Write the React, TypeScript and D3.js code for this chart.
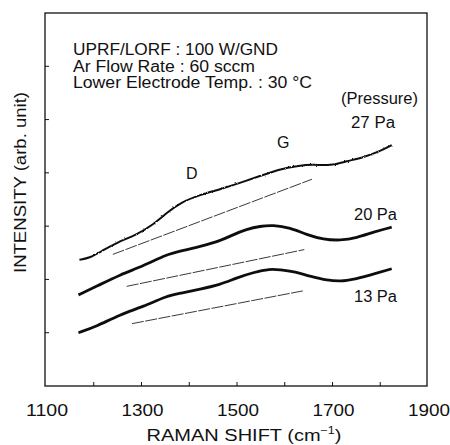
import React from "react";
import * as d3 from "d3";

const xTicks = [1100, 1300, 1500, 1700, 1900];
const xMinorTicks = [1200, 1300, 1400, 1500, 1600, 1700, 1800];
const yTicks = [1, 2, 3, 4, 5, 6];

const shift27 = [1170, 1192, 1220, 1248, 1290, 1325, 1353, 1381, 1423, 1464, 1506, 1548, 1590, 1625, 1660, 1695, 1730, 1765, 1800, 1824];
const int27 = [2.37, 2.40, 2.55, 2.69, 2.84, 3.03, 3.25, 3.44, 3.59, 3.69, 3.81, 3.94, 4.07, 4.13, 4.16, 4.13, 4.22, 4.29, 4.41, 4.52];

const shift20 = [1168, 1206, 1255, 1304, 1353, 1381, 1423, 1464, 1492, 1520, 1548, 1576, 1611, 1646, 1681, 1716, 1751, 1786, 1824];
const int20 = [1.71, 1.87, 2.09, 2.25, 2.47, 2.53, 2.62, 2.72, 2.84, 2.94, 3.00, 3.02, 2.97, 2.84, 2.75, 2.73, 2.78, 2.89, 2.98];

const shift13 = [1168, 1206, 1255, 1304, 1353, 1381, 1423, 1464, 1499, 1534, 1569, 1590, 1618, 1653, 1688, 1723, 1758, 1793, 1824];
const int13 = [1.00, 1.12, 1.34, 1.49, 1.69, 1.74, 1.82, 1.90, 2.03, 2.13, 2.20, 2.18, 2.15, 2.06, 1.98, 1.96, 2.03, 2.12, 2.20];

const baseShift27 = [1240, 1657];
const baseInt27 = [2.47, 3.88];
const baseShift20 = [1269, 1641];
const baseInt20 = [1.87, 2.56];
const baseShift13 = [1280, 1641];
const baseInt13 = [1.17, 1.79];

const W = 450, H = 445;
const L = 46, R = 428, T = 13, B = 386;
const FONT = "'Liberation Sans', Arial, Helvetica, sans-serif";

export default function App() {
  const x = d3.scaleLinear().domain([1100, 1900]).range([L, R]);
  const y = d3.scaleLinear().domain([0, 7]).range([B, T]);
  const line = d3
    .line<[number, number]>()
    .x((d) => x(d[0]))
    .y((d) => y(d[1]))
    .curve(d3.curveBasis);
  const straight = d3
    .line<[number, number]>()
    .x((d) => x(d[0]))
    .y((d) => y(d[1]));
  const zip = (a: number[], b: number[]) => a.map((v, i) => [v, b[i]] as [number, number]);

  return (
    <svg width={W} height={H} style={{ position: "absolute", left: 0, top: 0, background: "#fff" }} fontFamily={FONT}>
      <defs>
        <filter id="rough" x="-5%" y="-20%" width="110%" height="140%">
          <feTurbulence type="fractalNoise" baseFrequency="1.1" numOctaves="2" seed="3" result="n" />
          <feDisplacementMap in="SourceGraphic" in2="n" scale="2.2" xChannelSelector="R" yChannelSelector="G" />
        </filter>
        <filter id="rough2" x="-5%" y="-20%" width="110%" height="140%">
          <feTurbulence type="fractalNoise" baseFrequency="1.1" numOctaves="2" seed="7" result="n" />
          <feDisplacementMap in="SourceGraphic" in2="n" scale="1.2" xChannelSelector="R" yChannelSelector="G" />
        </filter>
      </defs>
      <rect x={0} y={0} width={W} height={H} fill="#fff" />
      {/* frame */}
      <rect x={L - 1} y={T} width={R - L} height={B - T} fill="none" stroke="#111" strokeWidth={1.3} />
      {/* ticks */}
      {xMinorTicks.map((t) => (
        <line key={"xt" + t} x1={x(t)} x2={x(t)} y1={B} y2={B - 4} stroke="#111" strokeWidth={1} />
      ))}
      {yTicks.map((t) => (
        <line key={"yt" + t} x1={L - 1} x2={L + 3} y1={y(t)} y2={y(t)} stroke="#111" strokeWidth={1} />
      ))}
      {xTicks.map((t) => (
        <text key={"xl" + t} x={x(t) + 1} y={416} fontSize={16} textAnchor="middle" textLength={42} lengthAdjust="spacingAndGlyphs" fill="#111">
          {t}
        </text>
      ))}
      {/* axis titles */}
      <g transform="translate(244,441) scale(1.25,1)">
        <text x={0} y={0} fontSize={16} textAnchor="middle" fill="#111">
          RAMAN SHIFT (cm<tspan fontSize={10} dy={-7}>−1</tspan><tspan dy={7}>)</tspan>
        </text>
      </g>
      <text transform="translate(26,182.5) rotate(-90)" x={0} y={0} fontSize={16} textAnchor="middle" textLength={181} lengthAdjust="spacingAndGlyphs" fill="#111">
        INTENSITY (arb. unit)
      </text>
      {/* baselines */}
      {[
        [baseShift27, baseInt27],
        [baseShift20, baseInt20],
        [baseShift13, baseInt13],
      ].map(([a, b], i) => (
        <path key={"bl" + i} d={straight(zip(a, b)) || ""} fill="none" stroke="#222" strokeWidth={0.9} strokeDasharray="12 1.5" />
      ))}
      {/* spectra */}
      <path d={line(zip(shift27, int27)) || ""} fill="none" stroke="#111" strokeWidth={2} filter="url(#rough)" />
      <path d={line(zip(shift20, int20)) || ""} fill="none" stroke="#111" strokeWidth={2.8} filter="url(#rough2)" />
      <path d={line(zip(shift13, int13)) || ""} fill="none" stroke="#111" strokeWidth={2.8} filter="url(#rough2)" />
      {/* annotations */}
      <text x={73} y={55} fontSize={16} textLength={205} lengthAdjust="spacingAndGlyphs" fill="#111">UPRF/LORF : 100 W/GND</text>
      <text x={73} y={72} fontSize={16} textLength={182} lengthAdjust="spacingAndGlyphs" fill="#111">Ar Flow Rate : 60 sccm</text>
      <text x={73} y={87.5} fontSize={16} textLength={239} lengthAdjust="spacingAndGlyphs" fill="#111">Lower Electrode Temp. : 30 °C</text>
      <text x={341} y={104} fontSize={16} textLength={77} lengthAdjust="spacingAndGlyphs" fill="#111">(Pressure)</text>
      <text x={351} y={127.5} fontSize={16} textLength={44} lengthAdjust="spacingAndGlyphs" fill="#111">27 Pa</text>
      <text x={354} y={220} fontSize={16} textLength={43} lengthAdjust="spacingAndGlyphs" fill="#111">20 Pa</text>
      <text x={354} y={301.5} fontSize={16} textLength={43} lengthAdjust="spacingAndGlyphs" fill="#111">13 Pa</text>
      <text x={277} y={148} fontSize={16} fill="#111">G</text>
      <text x={186} y={179} fontSize={16} fill="#111">D</text>
    </svg>
  );
}
